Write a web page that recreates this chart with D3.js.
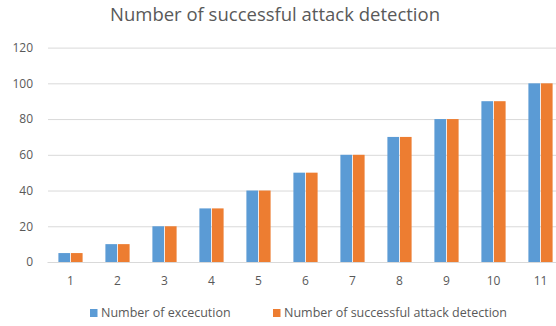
<!DOCTYPE html>
<html>
<head>
<meta charset="utf-8">
<script src="https://cdn.jsdelivr.net/npm/d3@7"></script>
<style>
  html, body { margin: 0; padding: 0; background: #fff; }
  svg { display: block; font-family: "Open Sans", "Noto Sans", sans-serif; }
</style>
</head>
<body>
<svg id="chart" width="556" height="326"></svg>
<script>
// Data
const categories = ["1", "2", "3", "4", "5", "6", "7", "8", "9", "10", "11"];
const executions = [5, 10, 20, 30, 40, 50, 60, 70, 80, 90, 100];
const detections = [5, 10, 20, 30, 40, 50, 60, 70, 80, 90, 100];
const yTicks = [0, 20, 40, 60, 80, 100, 120];
const seriesNames = ["Number of excecution", "Number of successful attack detection"];
const seriesColors = ["#5B9BD5", "#ED7D31"];
const titleText = "Number of successful attack detection";

const svg = d3.select("#chart");
const plot = { left: 47, right: 564, top: 47.6, bottom: 262 };

const x = d3.scaleBand().domain(categories).range([plot.left, plot.right]).padding(0);
const y = d3.scaleLinear().domain([0, 120]).range([plot.bottom, plot.top]);

const series = [executions, detections];
const barW = 11.3, barGap = 1.6;
const inner = d3.scaleBand().domain([0, 1]).range([-(barW + barGap / 2), barW + barGap / 2]).paddingInner(barGap / (2 * barW + barGap));

// Title
svg.append("text")
  .attr("x", 275).attr("y", 21)
  .attr("text-anchor", "middle")
  .attr("font-size", 18.5)
  .attr("fill", "#595959")
  .text(titleText);

// Gridlines and y labels
const yAxis = d3.axisLeft(y).tickValues(yTicks).tickSize(-(plot.right - plot.left)).tickPadding(14);
const gy = svg.append("g").attr("transform", `translate(${plot.left},0)`).call(yAxis);
gy.select(".domain").remove();
gy.selectAll(".tick line").attr("stroke", "#d9d9d9").attr("stroke-width", 1).attr("x1", 1);
gy.selectAll(".tick text").attr("fill", "#595959").attr("font-size", 12).attr("font-family", "\"Open Sans\", sans-serif");

// Bars
series.forEach((vals, si) => {
  svg.append("g").selectAll("rect")
    .data(vals)
    .join("rect")
    .attr("x", (d, i) => x(categories[i]) + x.bandwidth() / 2 + inner(si))
    .attr("width", inner.bandwidth())
    .attr("y", d => y(d))
    .attr("height", d => y(0) - y(d))
    .attr("fill", seriesColors[si]);
});

// x axis
const xAxis = d3.axisBottom(x).tickSize(0).tickPadding(14);
const gx = svg.append("g").attr("transform", `translate(0,${plot.bottom})`).call(xAxis);
gx.select(".domain").attr("stroke", "#d9d9d9").attr("stroke-width", 1);
gx.selectAll(".tick text").attr("fill", "#595959").attr("font-size", 12).attr("font-family", "\"Open Sans\", sans-serif");

// Legend
const legendX = [90, 273];
const lg = svg.append("g");
seriesNames.forEach((name, i) => {
  const g = lg.append("g").attr("transform", `translate(${legendX[i]},309)`);
  g.append("rect").attr("x", 0).attr("y", 0).attr("width", 7.5).attr("height", 8).attr("fill", seriesColors[i]);
  g.append("text").attr("x", 11).attr("y", 4).attr("dy", "0.35em")
    .attr("font-size", 12.5).attr("fill", "#595959").text(name);
});
</script>
</body>
</html>
